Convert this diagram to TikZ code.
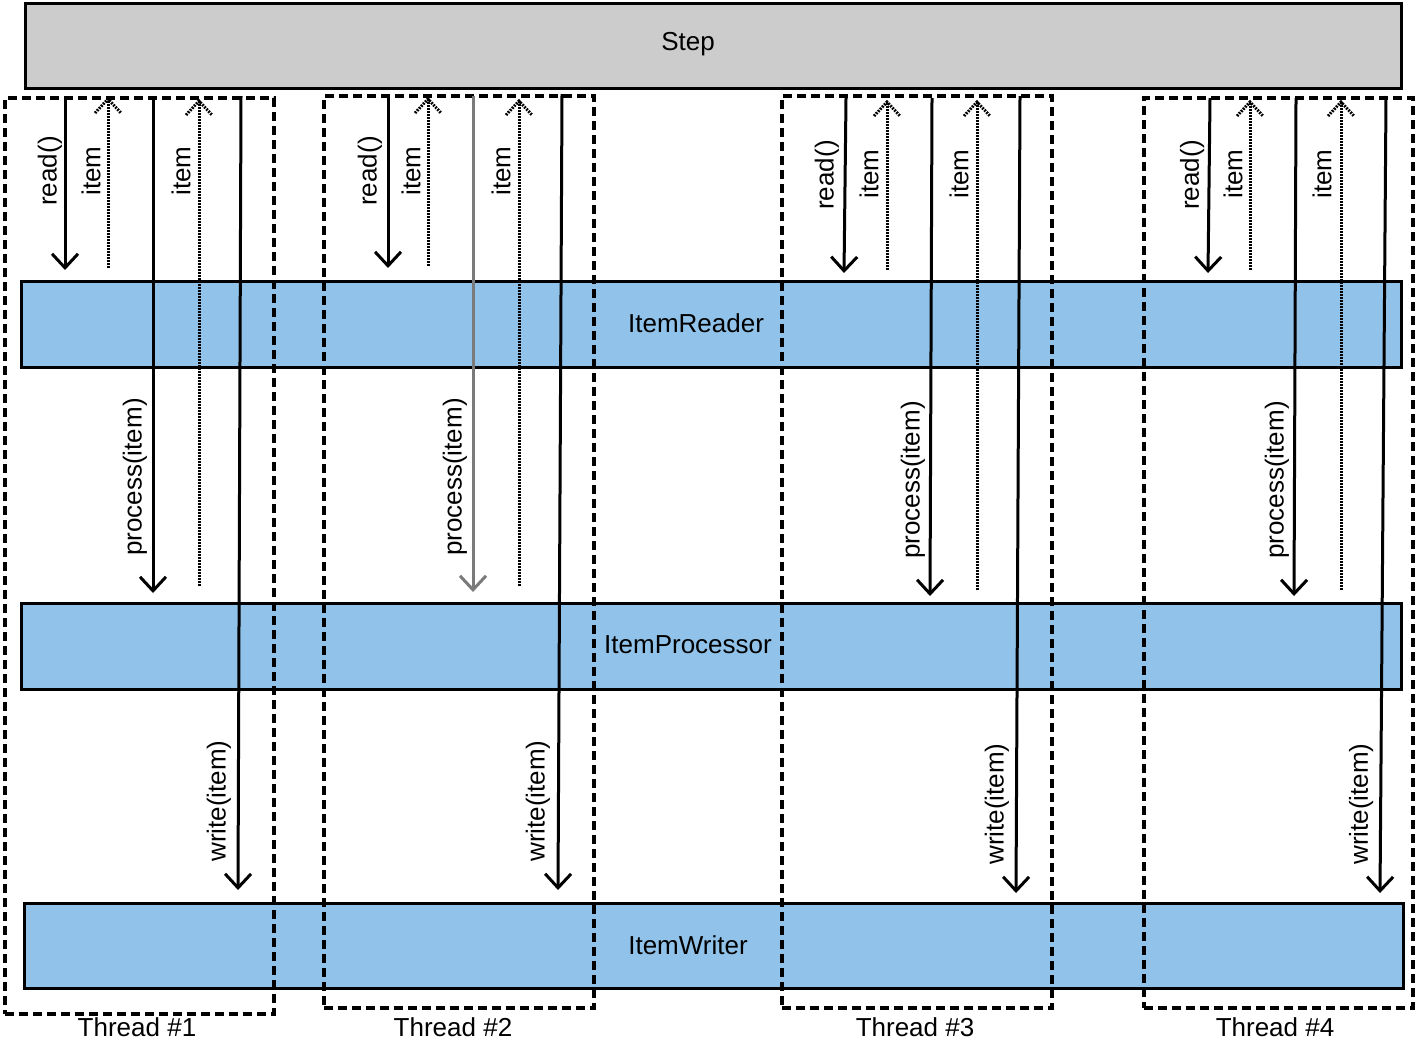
\documentclass[tikz,border=0pt]{standalone}
\usepackage{fontspec}
\setmainfont{Liberation Sans}
\usetikzlibrary{arrows.meta,calc}
\definecolor{boxblue}{HTML}{91C3EA}
\definecolor{stepgray}{HTML}{CCCCCC}
\definecolor{midgray}{HTML}{7A7A7A}
\begin{document}
\begin{tikzpicture}[x=0.5pt,y=-0.5pt,
  font=\fontsize{13}{15}\selectfont,
  box/.style={draw=black,line width=1.5pt,fill=boxblue,anchor=north west,inner sep=0pt},
  stepbox/.style={draw=black,line width=1.5pt,fill=stepgray,anchor=north west,inner sep=0pt},
  thread/.style={draw=black,line width=1.75pt,dash pattern=on 4.5pt off 2.5pt,anchor=north west,inner sep=0pt},
  callarrow/.style={draw=black,line width=1.5pt,-{Straight Barb[length=7pt,width=13pt,line width=1.5pt]}},
  grayarrow/.style={callarrow,draw=midgray},
  retline/.style={draw=black,line width=1.5pt,dash pattern=on 0.9pt off 0.6pt},
  lbl/.style={rotate=90,inner sep=0pt},
  thlbl/.style={inner sep=0pt},
]
\useasboundingbox (0,0) rectangle (1416,1039);
% main boxes
\node[stepbox,minimum width=688pt,minimum height=42.5pt] (step) at (24,2) {};
\node (steplbl) at (688,44) {Step};
\node[box,minimum width=690pt,minimum height=43pt] (reader) at (20,280) {};
\node (readerlbl) at (696,323) {ItemReader};
\node[box,minimum width=690pt,minimum height=43pt] (processor) at (20,602) {};
\node (processorlbl) at (688,645) {ItemProcessor};
\node[box,minimum width=689.5pt,minimum height=42.5pt] (writer) at (23,902) {};
\node (writerlbl) at (688,945) {ItemWriter};
% thread frames
\node[thread,minimum width=134.5pt,minimum height=458pt] (th1) at (3,96) {};
\node[thread,minimum width=135pt,minimum height=456pt] (th2) at (322,94) {};
\node[thread,minimum width=135pt,minimum height=456pt] (th3) at (780,94) {};
\node[thread,minimum width=134.5pt,minimum height=455pt] (th4) at (1142,96) {};
\node[thlbl] (th1lbl) at (137,1027) {Thread \#1};
\node[thlbl] (th2lbl) at (453,1027) {Thread \#2};
\node[thlbl] (th3lbl) at (915,1027) {Thread \#3};
\node[thlbl] (th4lbl) at (1275,1027) {Thread \#4};
% ---------- Thread 1
\coordinate (a1s) at (65,96);   \coordinate (a1e) at (65,270);
\coordinate (b1s) at (108,268); \coordinate (b1e) at (108,99);
\coordinate (c1s) at (153,96);  \coordinate (c1e) at (153,593);
\coordinate (d1s) at (199,586); \coordinate (d1e) at (199,101);
\coordinate (e1s) at (241,96);  \coordinate (e1e) at (238,890);
% ---------- Thread 2
\coordinate (a2s) at (388,94);  \coordinate (a2e) at (388,268);
\coordinate (b2s) at (428,266); \coordinate (b2e) at (428,99);
\coordinate (c2s) at (473,96);  \coordinate (c2e) at (473,592);
\coordinate (d2s) at (519,586); \coordinate (d2e) at (519,101);
\coordinate (e2s) at (562,94);  \coordinate (e2e) at (558,890);
% ---------- Thread 3
\coordinate (a3s) at (846,98);  \coordinate (a3e) at (844,273);
\coordinate (b3s) at (887,270); \coordinate (b3e) at (887,102);
\coordinate (c3s) at (932,98);  \coordinate (c3e) at (930,596);
\coordinate (d3s) at (977,590); \coordinate (d3e) at (977,102);
\coordinate (e3s) at (1020,96); \coordinate (e3e) at (1016,893);
% ---------- Thread 4
\coordinate (a4s) at (1210,98); \coordinate (a4e) at (1208,273);
\coordinate (b4s) at (1250,270);\coordinate (b4e) at (1250,102);
\coordinate (c4s) at (1296,98); \coordinate (c4e) at (1294,596);
\coordinate (d4s) at (1341,590);\coordinate (d4e) at (1341,102);
\coordinate (e4s) at (1386,96); \coordinate (e4e) at (1380,893);
% calls
\foreach \t in {1,2,3,4}{
  \draw[callarrow] (a\t s) -- (a\t e);
  \draw[callarrow] (e\t s) -- (e\t e);
  \draw[retline] (b\t s) -- (b\t e);
  \draw[retline] ($(b\t e)+(-13,14)$) -- (b\t e) -- ($(b\t e)+(13,14)$);
  \draw[retline] (d\t s) -- (d\t e);
  \draw[retline] ($(d\t e)+(-13,14)$) -- (d\t e) -- ($(d\t e)+(13,14)$);
}
\draw[callarrow] (c1s) -- (c1e);
\draw[grayarrow] (c2s) -- (c2e);
\draw[callarrow] (c3s) -- (c3e);
\draw[callarrow] (c4s) -- (c4e);
% labels
\node[lbl] (r1) at (50,171) {read()};
\node[lbl] (i1) at (91,171) {item};
\node[lbl] (j1) at (181,171) {item};
\node[lbl] (p1) at (135,477) {process(item)};
\node[lbl] (w1) at (219,801) {write(item)};
\node[lbl] (r2) at (370,171) {read()};
\node[lbl] (i2) at (411,171) {item};
\node[lbl] (j2) at (501,171) {item};
\node[lbl] (p2) at (455,477) {process(item)};
\node[lbl] (w2) at (538,801) {write(item)};
\node[lbl] (r3) at (827,175) {read()};
\node[lbl] (i3) at (869,174) {item};
\node[lbl] (j3) at (959,174) {item};
\node[lbl] (p3) at (913,480) {process(item)};
\node[lbl] (w3) at (997,804) {write(item)};
\node[lbl] (r4) at (1192,175) {read()};
\node[lbl] (i4) at (1233,174) {item};
\node[lbl] (j4) at (1322,174) {item};
\node[lbl] (p4) at (1277,480) {process(item)};
\node[lbl] (w4) at (1361,804) {write(item)};
\end{tikzpicture}
\end{document}
